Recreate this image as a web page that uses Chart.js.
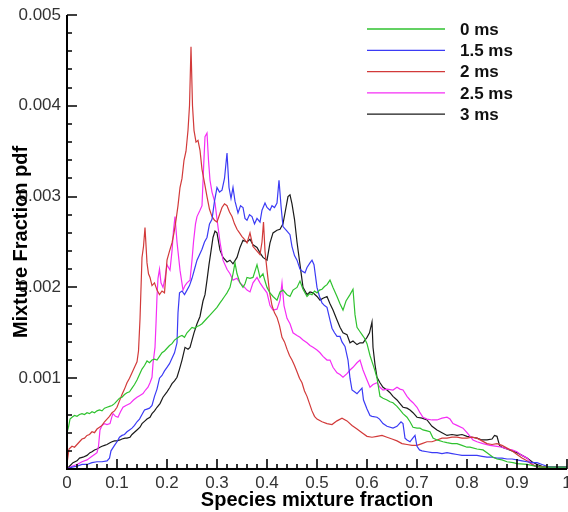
<!DOCTYPE html>
<html><head><meta charset="utf-8">
<script src="https://cdn.jsdelivr.net/npm/chart.js@4.4.1/dist/chart.umd.min.js"></script>
<style>html,body{margin:0;padding:0;background:#fff;overflow:hidden;}canvas{display:block;}</style>
</head><body>
<canvas id="c" width="568" height="512"></canvas>
<script>
// ---- data (x = species mixture fraction, value in units of 1e-3 pdf) ----
const seriesLabels = ['0 ms', '1.5 ms', '2 ms', '2.5 ms', '3 ms'];
const xTicks = [0, 0.1, 0.2, 0.3, 0.4, 0.5, 0.6, 0.7, 0.8, 0.9, 1];
const xTickLabels = ['0', '0.1', '0.2', '0.3', '0.4', '0.5', '0.6', '0.7', '0.8', '0.9', '1'];
const yTicks = [0, 0.001, 0.002, 0.003, 0.004, 0.005];
const yTickLabels = ['', '0.001', '0.002', '0.003', '0.004', '0.005'];

const pdf0ms = [[0,0.40],[0.003,0.46],[0.006,0.55],[0.01,0.57],[0.015,0.59],[0.02,0.58],[0.025,0.60],[0.03,0.61],[0.035,0.60],[0.04,0.62],[0.045,0.61],[0.05,0.63],[0.055,0.62],[0.06,0.64],[0.065,0.65],[0.07,0.64],[0.075,0.67],[0.08,0.68],[0.085,0.69],[0.09,0.70],[0.095,0.72],[0.10,0.75],[0.105,0.78],[0.11,0.79],[0.115,0.82],[0.12,0.84],[0.125,0.85],[0.13,0.89],[0.135,0.93],[0.14,0.98],[0.145,1.04],[0.15,1.10],[0.155,1.14],[0.16,1.19],[0.165,1.17],[0.17,1.20],[0.175,1.21],[0.18,1.20],[0.185,1.24],[0.19,1.28],[0.195,1.30],[0.20,1.33],[0.205,1.36],[0.21,1.38],[0.215,1.42],[0.22,1.44],[0.225,1.46],[0.23,1.47],[0.235,1.45],[0.24,1.50],[0.245,1.53],[0.25,1.56],[0.255,1.55],[0.26,1.57],[0.265,1.58],[0.27,1.60],[0.275,1.63],[0.28,1.66],[0.285,1.69],[0.29,1.72],[0.295,1.75],[0.30,1.78],[0.306,1.83],[0.31,1.86],[0.315,1.90],[0.32,1.94],[0.326,2.00],[0.332,2.15],[0.336,2.27],[0.34,2.15],[0.346,2.05],[0.352,2.00],[0.356,2.04],[0.36,2.11],[0.366,2.10],[0.372,2.11],[0.376,2.18],[0.38,2.25],[0.386,2.11],[0.392,2.15],[0.396,2.07],[0.40,2.00],[0.406,1.94],[0.412,1.90],[0.42,1.86],[0.426,1.95],[0.432,1.97],[0.44,1.92],[0.446,1.90],[0.452,1.97],[0.46,2.00],[0.466,2.07],[0.472,1.98],[0.48,1.90],[0.485,1.93],[0.49,1.92],[0.495,1.96],[0.50,1.94],[0.505,1.97],[0.51,1.98],[0.515,2.01],[0.52,2.03],[0.526,2.08],[0.532,2.00],[0.54,1.90],[0.546,1.82],[0.552,1.75],[0.558,1.85],[0.566,1.92],[0.572,1.98],[0.576,1.70],[0.58,1.56],[0.585,1.52],[0.59,1.48],[0.595,1.44],[0.60,1.38],[0.606,1.25],[0.612,1.15],[0.616,1.08],[0.62,1.00],[0.626,0.80],[0.632,0.78],[0.64,0.76],[0.646,0.74],[0.652,0.73],[0.66,0.69],[0.666,0.65],[0.672,0.61],[0.68,0.57],[0.686,0.52],[0.692,0.46],[0.70,0.45],[0.706,0.45],[0.712,0.43],[0.72,0.42],[0.726,0.41],[0.732,0.34],[0.74,0.32],[0.752,0.30],[0.76,0.29],[0.77,0.28],[0.78,0.28],[0.79,0.26],[0.80,0.24],[0.806,0.24],[0.82,0.22],[0.832,0.21],[0.84,0.18],[0.852,0.13],[0.86,0.11],[0.87,0.10],[0.88,0.08],[0.892,0.07],[0.90,0.06],[0.92,0.05],[0.946,0.02],[0.97,0.02],[1.0,0.02]];

const pdf15ms = [[0,0.00],[0.01,0.02],[0.02,0.03],[0.03,0.05],[0.04,0.05],[0.05,0.07],[0.06,0.08],[0.07,0.08],[0.08,0.09],[0.085,0.12],[0.088,0.20],[0.095,0.26],[0.10,0.30],[0.105,0.35],[0.11,0.37],[0.115,0.38],[0.12,0.41],[0.125,0.43],[0.13,0.45],[0.135,0.48],[0.14,0.52],[0.145,0.55],[0.15,0.60],[0.155,0.65],[0.16,0.66],[0.165,0.67],[0.17,0.70],[0.175,0.80],[0.18,0.88],[0.185,1.00],[0.19,1.03],[0.195,1.08],[0.20,1.12],[0.205,1.16],[0.21,1.22],[0.215,1.28],[0.22,1.39],[0.222,1.72],[0.225,1.94],[0.23,1.96],[0.235,1.92],[0.24,1.97],[0.245,2.02],[0.25,2.10],[0.255,2.20],[0.26,2.30],[0.265,2.36],[0.27,2.42],[0.275,2.50],[0.28,2.55],[0.285,2.70],[0.29,2.75],[0.295,2.95],[0.30,3.10],[0.305,3.05],[0.31,3.07],[0.315,3.20],[0.32,3.48],[0.324,3.10],[0.328,2.98],[0.332,3.10],[0.336,2.95],[0.342,2.82],[0.347,2.90],[0.352,2.88],[0.356,2.76],[0.36,2.74],[0.365,2.80],[0.37,2.78],[0.375,2.70],[0.38,2.76],[0.386,2.72],[0.39,2.85],[0.396,2.93],[0.40,2.88],[0.406,2.85],[0.41,2.90],[0.415,2.88],[0.42,2.93],[0.424,3.18],[0.428,2.90],[0.432,2.67],[0.44,2.62],[0.446,2.58],[0.45,2.45],[0.455,2.35],[0.46,2.30],[0.466,2.20],[0.47,2.18],[0.476,2.16],[0.48,2.22],[0.486,2.27],[0.49,2.30],[0.494,2.25],[0.50,2.00],[0.505,1.90],[0.51,1.83],[0.515,1.80],[0.52,1.78],[0.526,1.64],[0.53,1.55],[0.535,1.50],[0.54,1.46],[0.546,1.46],[0.55,1.40],[0.556,1.35],[0.562,1.20],[0.566,1.00],[0.57,0.87],[0.575,0.85],[0.58,0.83],[0.585,0.86],[0.59,0.89],[0.593,0.76],[0.60,0.66],[0.606,0.59],[0.61,0.58],[0.62,0.57],[0.625,0.55],[0.632,0.50],[0.64,0.47],[0.652,0.45],[0.66,0.47],[0.668,0.52],[0.672,0.50],[0.676,0.34],[0.68,0.32],[0.686,0.30],[0.69,0.33],[0.696,0.37],[0.70,0.25],[0.705,0.21],[0.71,0.20],[0.72,0.19],[0.73,0.18],[0.74,0.18],[0.75,0.17],[0.76,0.18],[0.77,0.17],[0.78,0.16],[0.79,0.15],[0.80,0.15],[0.81,0.15],[0.82,0.15],[0.83,0.14],[0.84,0.13],[0.85,0.13],[0.86,0.12],[0.87,0.12],[0.88,0.11],[0.89,0.11],[0.90,0.10],[0.91,0.09],[0.92,0.08],[0.93,0.07],[0.94,0.07],[0.95,0.05],[0.96,0.03],[0.97,0.02],[1.0,0.02]];

const pdf2ms = [[0,0.06],[0.004,0.22],[0.01,0.25],[0.015,0.24],[0.02,0.27],[0.025,0.30],[0.03,0.33],[0.035,0.34],[0.04,0.37],[0.045,0.38],[0.05,0.41],[0.055,0.40],[0.06,0.44],[0.065,0.46],[0.07,0.48],[0.075,0.52],[0.08,0.55],[0.085,0.58],[0.09,0.62],[0.095,0.64],[0.10,0.68],[0.105,0.75],[0.11,0.82],[0.115,0.88],[0.12,0.95],[0.125,1.00],[0.13,1.06],[0.135,1.12],[0.14,1.18],[0.143,1.30],[0.146,1.65],[0.15,2.33],[0.153,2.45],[0.156,2.66],[0.16,2.27],[0.163,2.15],[0.166,2.11],[0.17,2.02],[0.175,2.05],[0.18,1.97],[0.185,1.92],[0.19,1.96],[0.195,1.94],[0.20,2.30],[0.205,2.40],[0.21,2.49],[0.214,2.60],[0.218,2.74],[0.222,2.90],[0.226,3.10],[0.23,3.20],[0.234,3.40],[0.238,3.50],[0.242,3.73],[0.245,4.00],[0.248,4.65],[0.251,4.00],[0.254,3.73],[0.258,3.60],[0.262,3.62],[0.266,3.51],[0.27,3.30],[0.275,3.15],[0.28,3.00],[0.285,2.86],[0.29,2.78],[0.295,2.74],[0.30,2.72],[0.305,2.80],[0.31,2.88],[0.315,2.92],[0.32,2.90],[0.325,2.83],[0.33,2.78],[0.335,2.70],[0.34,2.64],[0.345,2.60],[0.35,2.56],[0.355,2.53],[0.36,2.49],[0.366,2.60],[0.372,2.45],[0.38,2.40],[0.386,2.36],[0.39,2.50],[0.393,2.72],[0.396,2.40],[0.40,2.19],[0.405,1.95],[0.41,1.80],[0.415,1.72],[0.42,1.67],[0.425,1.58],[0.43,1.45],[0.435,1.40],[0.44,1.32],[0.445,1.25],[0.45,1.20],[0.455,1.14],[0.46,1.07],[0.465,1.00],[0.47,0.95],[0.475,0.86],[0.48,0.80],[0.485,0.72],[0.49,0.64],[0.495,0.58],[0.50,0.55],[0.51,0.52],[0.52,0.50],[0.53,0.49],[0.54,0.53],[0.55,0.56],[0.56,0.53],[0.57,0.48],[0.58,0.44],[0.59,0.40],[0.60,0.36],[0.61,0.35],[0.62,0.36],[0.63,0.37],[0.64,0.35],[0.65,0.33],[0.66,0.31],[0.67,0.28],[0.68,0.27],[0.69,0.26],[0.70,0.26],[0.71,0.28],[0.72,0.30],[0.73,0.30],[0.74,0.32],[0.75,0.34],[0.76,0.34],[0.77,0.35],[0.78,0.35],[0.79,0.34],[0.80,0.34],[0.81,0.35],[0.82,0.34],[0.83,0.31],[0.84,0.28],[0.85,0.27],[0.86,0.28],[0.87,0.26],[0.88,0.23],[0.89,0.20],[0.90,0.16],[0.91,0.12],[0.92,0.09],[0.93,0.05],[0.94,0.03],[0.95,0.02],[0.97,0.02],[1.0,0.02]];

const pdf25ms = [[0,0.00],[0.01,0.03],[0.02,0.05],[0.03,0.08],[0.04,0.10],[0.05,0.14],[0.055,0.16],[0.06,0.18],[0.063,0.25],[0.066,0.43],[0.07,0.48],[0.075,0.50],[0.08,0.49],[0.086,0.50],[0.09,0.58],[0.092,0.61],[0.097,0.58],[0.102,0.57],[0.107,0.63],[0.112,0.68],[0.118,0.70],[0.126,0.72],[0.133,0.76],[0.14,0.79],[0.146,0.81],[0.152,0.83],[0.157,0.87],[0.162,0.90],[0.166,0.95],[0.17,1.01],[0.172,1.16],[0.176,1.34],[0.178,1.60],[0.18,1.90],[0.182,2.10],[0.185,2.20],[0.188,2.05],[0.192,2.00],[0.196,2.10],[0.20,2.25],[0.203,2.22],[0.206,2.19],[0.21,2.40],[0.213,2.63],[0.216,2.78],[0.22,2.50],[0.226,2.19],[0.232,1.97],[0.236,2.02],[0.24,2.05],[0.246,2.08],[0.25,2.30],[0.253,2.50],[0.257,2.70],[0.26,2.78],[0.266,2.85],[0.27,2.90],[0.273,3.30],[0.276,3.66],[0.28,3.70],[0.283,3.40],[0.286,3.18],[0.29,3.05],[0.296,2.93],[0.30,2.75],[0.306,2.50],[0.312,2.30],[0.32,2.20],[0.326,2.15],[0.332,2.08],[0.34,2.10],[0.346,2.05],[0.352,2.02],[0.36,1.97],[0.366,1.95],[0.372,2.05],[0.38,2.11],[0.386,2.05],[0.392,2.00],[0.40,1.94],[0.406,1.80],[0.412,1.75],[0.42,1.76],[0.426,1.86],[0.43,2.05],[0.434,1.80],[0.44,1.66],[0.446,1.60],[0.452,1.50],[0.46,1.47],[0.466,1.45],[0.472,1.42],[0.48,1.39],[0.486,1.36],[0.492,1.34],[0.50,1.31],[0.506,1.28],[0.512,1.24],[0.52,1.20],[0.526,1.20],[0.532,1.12],[0.54,1.06],[0.546,1.04],[0.552,1.01],[0.56,1.05],[0.566,1.09],[0.572,1.12],[0.58,1.17],[0.586,1.20],[0.592,1.09],[0.60,0.98],[0.606,0.90],[0.612,0.93],[0.62,0.95],[0.626,0.90],[0.632,0.87],[0.64,0.88],[0.652,0.87],[0.66,0.90],[0.666,0.88],[0.672,0.87],[0.68,0.80],[0.686,0.76],[0.692,0.73],[0.70,0.68],[0.706,0.62],[0.712,0.57],[0.72,0.55],[0.73,0.54],[0.74,0.54],[0.75,0.56],[0.76,0.57],[0.766,0.55],[0.772,0.50],[0.78,0.48],[0.792,0.45],[0.80,0.40],[0.812,0.32],[0.82,0.30],[0.832,0.28],[0.846,0.26],[0.86,0.25],[0.87,0.24],[0.88,0.22],[0.89,0.21],[0.90,0.19],[0.91,0.15],[0.92,0.12],[0.93,0.06],[0.935,0.03],[0.94,0.02],[1.0,0.02]];

const pdf3ms = [[0,0.00],[0.005,0.03],[0.012,0.07],[0.02,0.09],[0.025,0.12],[0.032,0.13],[0.04,0.15],[0.046,0.18],[0.05,0.19],[0.055,0.21],[0.06,0.22],[0.066,0.24],[0.07,0.25],[0.075,0.26],[0.08,0.27],[0.086,0.29],[0.09,0.30],[0.095,0.31],[0.10,0.31],[0.106,0.32],[0.11,0.33],[0.116,0.34],[0.12,0.34],[0.126,0.35],[0.13,0.38],[0.136,0.41],[0.14,0.43],[0.146,0.46],[0.15,0.50],[0.156,0.53],[0.16,0.55],[0.166,0.57],[0.17,0.61],[0.175,0.64],[0.18,0.68],[0.186,0.72],[0.192,0.79],[0.20,0.85],[0.206,0.90],[0.21,0.94],[0.215,0.97],[0.22,1.01],[0.225,1.10],[0.23,1.20],[0.236,1.34],[0.242,1.32],[0.246,1.34],[0.25,1.42],[0.254,1.50],[0.26,1.60],[0.266,1.68],[0.272,1.85],[0.276,1.92],[0.28,2.08],[0.284,2.25],[0.288,2.40],[0.292,2.55],[0.296,2.62],[0.30,2.60],[0.306,2.41],[0.312,2.33],[0.32,2.28],[0.326,2.30],[0.332,2.26],[0.34,2.33],[0.346,2.44],[0.352,2.52],[0.36,2.50],[0.366,2.53],[0.372,2.47],[0.38,2.44],[0.386,2.38],[0.392,2.33],[0.40,2.30],[0.406,2.49],[0.412,2.60],[0.42,2.63],[0.426,2.64],[0.432,2.70],[0.438,2.88],[0.442,3.00],[0.446,3.02],[0.45,2.92],[0.455,2.75],[0.46,2.50],[0.466,2.25],[0.472,2.00],[0.48,1.92],[0.486,1.95],[0.492,1.94],[0.50,1.90],[0.506,1.86],[0.512,1.88],[0.52,1.90],[0.526,1.82],[0.532,1.75],[0.54,1.64],[0.546,1.56],[0.552,1.50],[0.56,1.48],[0.566,1.39],[0.572,1.41],[0.58,1.37],[0.586,1.39],[0.592,1.39],[0.60,1.45],[0.605,1.50],[0.61,1.62],[0.612,1.34],[0.616,1.15],[0.62,1.01],[0.626,0.95],[0.632,0.90],[0.64,0.87],[0.646,0.84],[0.652,0.80],[0.66,0.76],[0.666,0.72],[0.672,0.68],[0.68,0.67],[0.686,0.65],[0.692,0.62],[0.70,0.57],[0.71,0.56],[0.72,0.54],[0.73,0.47],[0.74,0.43],[0.75,0.40],[0.76,0.37],[0.77,0.38],[0.78,0.37],[0.79,0.38],[0.80,0.36],[0.81,0.35],[0.82,0.34],[0.83,0.32],[0.84,0.32],[0.85,0.33],[0.855,0.37],[0.86,0.36],[0.865,0.26],[0.87,0.24],[0.88,0.22],[0.89,0.20],[0.90,0.18],[0.91,0.15],[0.92,0.12],[0.93,0.08],[0.94,0.05],[0.95,0.03],[0.96,0.02],[1.0,0.02]];

const seriesData = [pdf0ms, pdf15ms, pdf2ms, pdf25ms, pdf3ms];
const seriesColors = ['#2fc22f', '#3b3bf5', '#d23a3a', '#f52ef5', '#1a1a1a'];

// ---- chart ----
const FONT = '"Liberation Sans", Arial, sans-serif';

const decor = {
  id: 'decor',
  afterDraw(chart) {
    const { ctx, chartArea: a, scales: { x, y } } = chart;
    ctx.save();
    ctx.strokeStyle = '#000';
    // axes
    ctx.lineWidth = 2;
    ctx.beginPath();
    ctx.moveTo(a.left, a.top);
    ctx.lineTo(a.left, a.bottom);
    ctx.lineTo(a.right, a.bottom);
    ctx.stroke();
    // ticks (inward)
    ctx.lineWidth = 1.6;
    ctx.beginPath();
    for (let i = 0; i < xTicks.length; i++) {
      const px = Math.round(x.getPixelForValue(xTicks[i]));
      ctx.moveTo(px, a.bottom); ctx.lineTo(px, a.bottom - 10);
      if (i < xTicks.length - 1) {
        const st = (xTicks[i + 1] - xTicks[i]) / 5;
        for (let k = 1; k < 5; k++) {
          const pm = Math.round(x.getPixelForValue(xTicks[i] + k * st));
          ctx.moveTo(pm, a.bottom); ctx.lineTo(pm, a.bottom - 5);
        }
      }
    }
    for (let i = 0; i < yTicks.length; i++) {
      const py = Math.round(y.getPixelForValue(yTicks[i]));
      ctx.moveTo(a.left, py); ctx.lineTo(a.left + 10, py);
      if (i < yTicks.length - 1) {
        const st = (yTicks[i + 1] - yTicks[i]) / 5;
        for (let k = 1; k < 5; k++) {
          const pm = Math.round(y.getPixelForValue(yTicks[i] + k * st));
          ctx.moveTo(a.left, pm); ctx.lineTo(a.left + 5, pm);
        }
      }
    }
    ctx.stroke();
    // axis titles
    ctx.fillStyle = '#000';
    ctx.font = 'bold 20px ' + FONT;
    ctx.textAlign = 'center';
    ctx.textBaseline = 'middle';
    ctx.fillText('Species mixture fraction', (a.left + a.right) / 2, 500);
    ctx.save();
    ctx.translate(21, 242);
    ctx.rotate(-Math.PI / 2);
    ctx.fillText('Mixture Fraction pdf', 0, 0);
    ctx.restore();
    // legend
    ctx.font = 'bold 17px ' + FONT;
    ctx.textAlign = 'left';
    chart.data.datasets.forEach((ds, i) => {
      const ly = 29 + i * 21.3;
      ctx.strokeStyle = ds.borderColor;
      ctx.lineWidth = 1.3;
      ctx.beginPath();
      ctx.moveTo(367, ly); ctx.lineTo(445, ly);
      ctx.stroke();
      ctx.fillStyle = '#111';
      ctx.fillText(ds.label, 460, ly + 1);
    });
    ctx.restore();
  }
};

new Chart(document.getElementById('c'), {
  type: 'scatter',
  data: {
    datasets: seriesData.map((s, i) => ({
      label: seriesLabels[i],
      data: s.map(p => ({ x: p[0], y: p[1] / 1000 })),
      showLine: true,
      borderColor: seriesColors[i],
      backgroundColor: seriesColors[i],
      borderWidth: 1.2,
      pointRadius: 0,
      pointHoverRadius: 0,
      tension: 0,
      fill: false
    }))
  },
  options: {
    responsive: false,
    animation: false,
    devicePixelRatio: 1,
    layout: { padding: { top: 15, right: 1, left: 0, bottom: 0 } },
    plugins: { legend: { display: false }, tooltip: { enabled: false } },
    scales: {
      x: {
        type: 'linear', min: 0, max: 1,
        grid: { display: false, drawTicks: false },
        border: { display: false },
        afterBuildTicks: s => { s.ticks = xTicks.map(v => ({ value: v })); },
        afterFit: s => { s.height = 43; s.paddingLeft = 0; s.paddingRight = 0; },
        ticks: {
          autoSkip: false, maxRotation: 0, padding: 4,
          color: '#333', font: { family: FONT, size: 17 },
          callback: (v, i) => xTickLabels[i]
        }
      },
      y: {
        type: 'linear', min: 0, max: 0.005,
        grid: { display: false, drawTicks: false },
        border: { display: false },
        afterBuildTicks: s => { s.ticks = yTicks.map(v => ({ value: v })); },
        afterFit: s => { s.width = 67; s.paddingTop = 0; s.paddingBottom = 0; },
        ticks: {
          autoSkip: false, padding: 6,
          color: '#333', font: { family: FONT, size: 17 },
          callback: (v, i) => yTickLabels[i]
        }
      }
    }
  },
  plugins: [decor]
});
</script>
</body></html>
